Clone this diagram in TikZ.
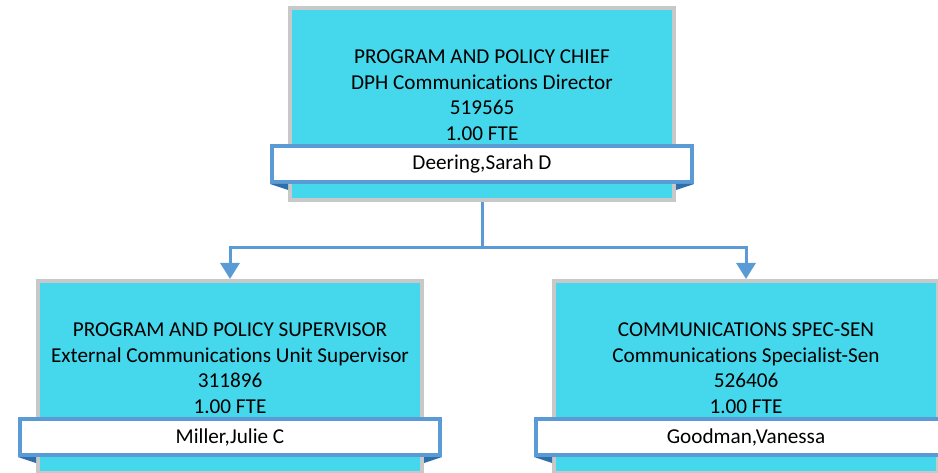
\documentclass[tikz,border=0pt]{standalone}
\usepackage{fontspec}
\setmainfont{Carlito}[Ligatures=NoCommon]
\usetikzlibrary{arrows.meta}
\definecolor{boxcyan}{RGB}{69,215,235}
\definecolor{boxgray}{RGB}{200,200,200}
\definecolor{bandblue}{RGB}{91,155,213}
\definecolor{folddark}{RGB}{46,110,173}

\begin{document}
\begin{tikzpicture}[x=1pt,y=-1pt,
        posbox/.style={draw=boxgray,line width=4pt,fill=boxcyan,
            minimum width=384pt,minimum height=192pt,inner sep=0pt},
        postext/.style={align=center,inner sep=0pt,
            font=\fontsize{21.2}{25.5}\selectfont},
        nameband/.style={draw=bandblue,line width=4pt,fill=white,
            minimum width=420pt,minimum height=36pt,inner sep=0pt,
            font=\fontsize{21.2}{23}\selectfont},
        link/.style={draw=bandblue,line width=3pt},
        fold/.style={fill=folddark}]
                \useasboundingbox (0,0) rectangle (938,473);

                % Boxes
                \node[posbox] (chief) at (482,104) {};
                \node[posbox] (super) at (230,377) {};
                \node[posbox] (spec) at (746,377) {};

                % Position texts
                \node[postext] (chieftxt) at ([yshift=9pt]chief.center)
                    {PROGRAM AND POLICY CHIEF\\DPH Communications Director\\519565\\1.00 FTE};
                \node[postext] (supertxt) at ([yshift=9pt]super.center)
                    {PROGRAM AND POLICY SUPERVISOR\\External Communications Unit Supervisor\\311896\\1.00 FTE};
                \node[postext] (spectxt) at ([yshift=9pt]spec.center)
                    {COMMUNICATIONS SPEC-SEN\\Communications Specialist-Sen\\526406\\1.00 FTE};

                % Name bands
                \node[nameband] (chiefnm) at (482,164) {Deering,Sarah D};
                \node[nameband] (supernm) at (230,437) {Miller,Julie C};
                \node[nameband] (specnm) at (746,437) {Goodman,Vanessa};

                % Folds under the bands
                \foreach \b/\n in {chief/chiefnm,super/supernm,spec/specnm}{
                    \fill[fold] (\n.south west) -- (\b.west |- \n.south) -- ++(0,6) -- cycle;
                    \fill[fold] (\n.south east) -- (\b.east |- \n.south) -- ++(0,6) -- cycle;
                }

                % Connectors
                \coordinate (hub) at (482,248);
                \draw[link] (chief.south) -- (hub);
                \draw[link,-{Triangle[width=19pt,length=16pt]}] (hub) -| (super.north);
                \draw[link,-{Triangle[width=19pt,length=16pt]}] (hub) -| (spec.north);
\end{tikzpicture}
\end{document}
